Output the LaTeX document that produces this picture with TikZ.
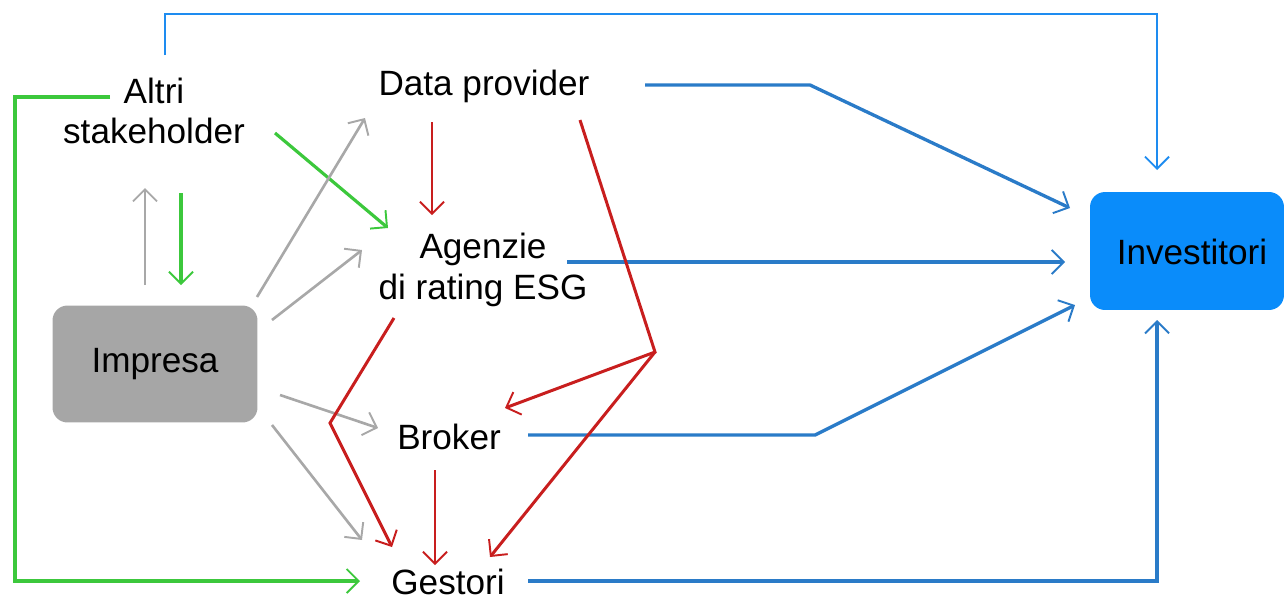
\documentclass[tikz,border=0pt]{standalone}
\usepackage{fontspec}
\setmainfont{Liberation Sans}
\usetikzlibrary{arrows.meta}
\definecolor{cblue}{HTML}{2A7BC8}
\definecolor{ctop}{HTML}{1E8CF0}
\definecolor{cgreen}{HTML}{3CC83C}
\definecolor{cgray}{HTML}{A8A8A8}
\definecolor{cred}{HTML}{C81E1E}
\definecolor{boxgray}{HTML}{A6A6A6}
\definecolor{boxblue}{HTML}{0A8CFA}
\tikzset{
  lbl/.style={font=\fontsize{20}{23}\selectfont, align=center, inner sep=0pt},
  tip/.style={-{Straight Barb[length=2.4mm,width=4.8mm,line width=1.1pt]}},
  bluel/.style={draw=cblue, line width=1.9pt, tip},
  topl/.style={draw=ctop, line width=1.6pt, tip},
  greenl/.style={draw=cgreen, line width=1.8pt, tip},
  grayl/.style={draw=cgray, line width=1.5pt, tip},
  redl/.style={draw=cred, line width=1.7pt, tip},
}
\begin{document}
\begin{tikzpicture}[x=0.02cm,y=-0.02cm]
\useasboundingbox (0,0) rectangle (1285,603);
% boxes
\node[lbl, fill=boxgray, rounded corners=0.3cm, minimum width=4.1cm, minimum height=2.34cm] (imp) at (155,364) {Impresa};
\node[lbl, fill=boxblue, rounded corners=0.3cm, minimum width=3.88cm, minimum height=2.36cm] (inv) at (1187,251) {};
\node[lbl] (invt) at (1192,252) {Investitori};
% labels
\node[lbl] (alt) at (154,111) {Altri\\stakeholder};
\node[lbl] (dp) at (484,86) {Data provider};
\node[lbl] (ag) at (483,270) {Agenzie\\di rating ESG};
\node[lbl] (br) at (449,437) {Broker};
\node[lbl] (ge) at (448,582) {Gestori};
% coordinates
\coordinate (t1) at (165,55); \coordinate (t2) at (165,14); \coordinate (t3) at (1157,14); \coordinate (t4) at (1157,170);
\coordinate (d1) at (645,85); \coordinate (d2) at (810,85); \coordinate (d3) at (1070,208);
\coordinate (a1) at (567,262); \coordinate (a2) at (1065,262);
\coordinate (b1) at (528,435); \coordinate (b2) at (815,435); \coordinate (b3) at (1075,305);
\coordinate (g1) at (528,581); \coordinate (g2) at (1157,581); \coordinate (g3) at (1157,320);
\coordinate (l1) at (110,97); \coordinate (l2) at (15,97); \coordinate (l3) at (15,581); \coordinate (l4) at (360,581);
\coordinate (s1) at (275,133); \coordinate (s2) at (388,228);
\coordinate (s3) at (181,193); \coordinate (s4) at (181,285);
\coordinate (i1) at (145,285); \coordinate (i2) at (145,188);
\coordinate (i3) at (257,297); \coordinate (i4) at (365,118);
\coordinate (i5) at (272,320); \coordinate (i6) at (362,250);
\coordinate (i7) at (280,395); \coordinate (i8) at (378,428);
\coordinate (i9) at (272,425); \coordinate (i10) at (362,540);
\coordinate (r1) at (432,122); \coordinate (r2) at (432,215);
\coordinate (r3) at (580,120); \coordinate (r4) at (655,352); \coordinate (r5) at (505,408); \coordinate (r6) at (490,557);
\coordinate (r7) at (394,318); \coordinate (r8) at (330,423); \coordinate (r9) at (392,547);
\coordinate (r10) at (435,470); \coordinate (r11) at (435,565);
% blue
\draw[topl] (t1) -- (t2) -- (t3) -- (t4);
\draw[bluel] (d1) -- (d2) -- (d3);
\draw[bluel] (a1) -- (a2);
\draw[bluel] (b1) -- (b2) -- (b3);
\draw[bluel] (g1) -- (g2) -- (g3);
% green
\draw[greenl] (l1) -- (l2) -- (l3) -- (l4);
\draw[greenl] (s1) -- (s2);
\draw[greenl] (s3) -- (s4);
% gray
\draw[grayl] (i1) -- (i2);
\draw[grayl] (i3) -- (i4);
\draw[grayl] (i5) -- (i6);
\draw[grayl] (i7) -- (i8);
\draw[grayl] (i9) -- (i10);
% red
\draw[redl] (r1) -- (r2);
\draw[redl] (r3) -- (r4) -- (r5);
\draw[redl] (r4) -- (r6);
\draw[redl] (r7) -- (r8) -- (r9);
\draw[redl] (r10) -- (r11);
\end{tikzpicture}
\end{document}
